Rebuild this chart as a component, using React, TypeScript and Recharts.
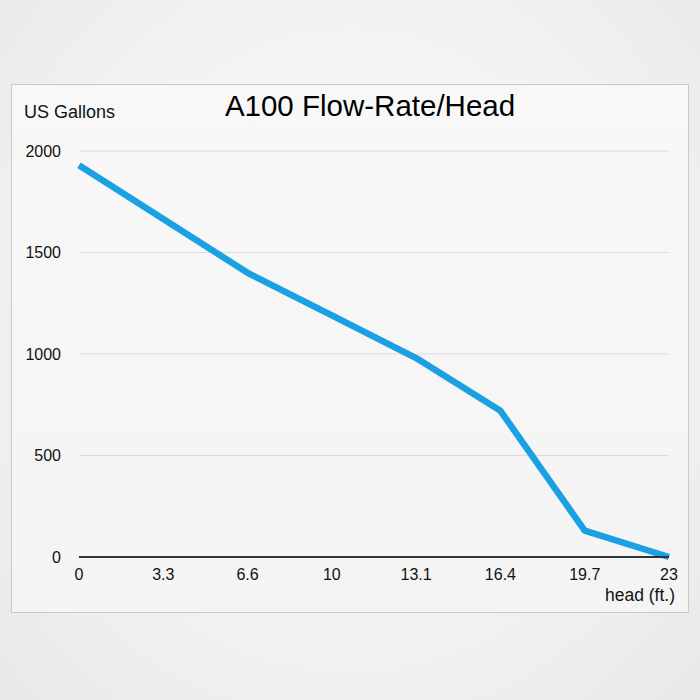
import React from "react";
import { LineChart, Line, XAxis, YAxis, CartesianGrid } from "recharts";

const heads = ["0", "3.3", "6.6", "10", "13.1", "16.4", "19.7", "23"];
const gallons = [1930, 1665, 1400, 1190, 980, 720, 130, 0];
const yTicks = [0, 500, 1000, 1500, 2000];

const data = heads.map((h, i) => ({ head: h, gallons: gallons[i] }));

const FONT = "'Liberation Sans', Arial, Helvetica, sans-serif";

export default function App() {
  return (
    <div
      style={{
        position: "absolute",
        left: 0,
        top: 0,
        width: 700,
        height: 700,
        overflow: "hidden",
        background: "radial-gradient(ellipse at 50% 45%, #fafafa 0%, #f2f2f2 60%, #e8e8e8 100%)",
        fontFamily: FONT,
      }}
    >
      <div
        style={{
          position: "absolute",
          left: 11,
          top: 84,
          width: 676,
          height: 527,
          border: "1px solid #c9c9c9",
          background: "linear-gradient(180deg, #f8f8f8 0%, #f4f4f4 100%)",
        }}
      />
      <div
        style={{
          position: "absolute",
          left: 24,
          top: 102,
          fontSize: 18,
          color: "#111",
          lineHeight: "20px",
        }}
      >
        US Gallons
      </div>
      <div
        style={{
          position: "absolute",
          left: 170,
          width: 400,
          top: 89,
          textAlign: "center",
          fontSize: 29.5,
          color: "#000",
          lineHeight: "34px",
        }}
      >
        A100 Flow-Rate/Head
      </div>
      <div
        style={{
          position: "absolute",
          right: 25,
          top: 585,
          fontSize: 17.5,
          color: "#111",
          lineHeight: "20px",
        }}
      >
        head (ft.)
      </div>
      <div style={{ position: "absolute", left: 0, top: 0 }}>
        <LineChart
          width={700}
          height={700}
          data={data}
          margin={{ top: 151, right: 31, bottom: 93, left: 29 }}
        >
          <CartesianGrid vertical={false} stroke="#dcdcdc" strokeWidth={1} />
          <XAxis
            dataKey="head"
            type="category"
            ticks={heads}
            interval={0}
            tickLine={false}
            axisLine={{ stroke: "#333", strokeWidth: 2 }}
            tick={{ fill: "#111", fontSize: 16, fontFamily: FONT }}
            tickSize={6}
            tickMargin={6}
            height={50}
          />
          <YAxis
            domain={[0, 2000]}
            ticks={yTicks}
            interval={0}
            tickLine={false}
            axisLine={false}
            tick={{ fill: "#111", fontSize: 16, fontFamily: FONT }}
            tickSize={6}
            tickMargin={12}
            width={50}
          />
          <Line
            type="linear"
            dataKey="gallons"
            stroke="#1ba0e2"
            strokeWidth={6.5}
            dot={false}
            strokeLinejoin="round"
            isAnimationActive={false}
          />
        </LineChart>
      </div>
    </div>
  );
}
